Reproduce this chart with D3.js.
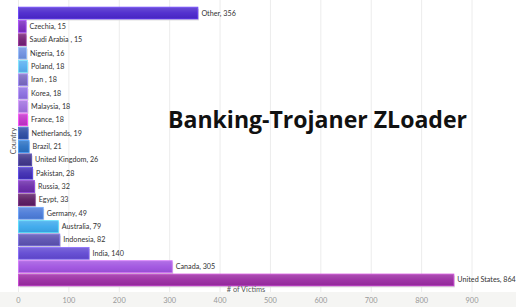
<!DOCTYPE html>
<html><head><meta charset="utf-8">
<script src="https://cdn.jsdelivr.net/npm/d3@7"></script>
<style>body{margin:0;background:#fff}svg{display:block}</style>
</head><body>
<script>
const countries = ["Other","Czechia","Saudi Arabia ","Nigeria","Poland","Iran ","Korea","Malaysia","France","Netherlands","Brazil","United Kingdom","Pakistan","Russia","Egypt","Germany","Australia","Indonesia","India","Canada","United States"];
const victims = [356,15,15,16,18,18,18,18,18,19,21,26,28,32,33,49,79,82,140,305,864];
const colors = ["#4a26cc","#7a2cbe","#721e72","#6e90e0","#58aef0","#7868c0","#8a6ee0","#a070de","#c232c8","#2c4ca2","#2a70c2","#3e3488","#3e2cb2","#6a2aa8","#5a1a60","#4a7ad8","#3aa8ec","#5a50b0","#6048d2","#a052e0","#9a2aa2"];
const xTicks = [0,100,200,300,400,500,600,700,800,900];
const title = "Banking-Trojaner ZLoader";

const W = 516, H = 307;
const svg = d3.select("body").append("svg").attr("width", W).attr("height", H);
const x = d3.scaleLinear().domain([0, 900]).range([18.5, 472]);
const y = d3.scaleBand().domain(countries).range([6.5, 286.5]).paddingInner(0.12).paddingOuter(0.05);

svg.append("rect").attr("x", 0).attr("y", 292).attr("width", W).attr("height", H - 292).attr("fill", "#f5f5f3");

svg.append("g").selectAll("line").data(xTicks).join("line")
  .attr("x1", d => x(d)).attr("x2", d => x(d)).attr("y1", 0).attr("y2", 292)
  .attr("stroke", "#ececec").attr("stroke-width", 1);

const defs = svg.append("defs");
const g = defs.append("linearGradient").attr("id", "shine").attr("x1", 0).attr("y1", 0).attr("x2", 0).attr("y2", 1);
g.append("stop").attr("offset", "0%").attr("stop-color", "#fff").attr("stop-opacity", 0.18);
g.append("stop").attr("offset", "50%").attr("stop-color", "#fff").attr("stop-opacity", 0.05);
g.append("stop").attr("offset", "100%").attr("stop-color", "#000").attr("stop-opacity", 0.06);

const bars = svg.append("g");
bars.selectAll("rect.sh").data(countries).join("rect").attr("class", "sh")
  .attr("x", x(0) + 1).attr("y", d => y(d) + 1.5)
  .attr("width", (d, i) => x(victims[i]) - x(0)).attr("height", y.bandwidth())
  .attr("fill", "#d8d8d8");
bars.selectAll("rect.b").data(countries).join("rect").attr("class", "b")
  .attr("x", x(0)).attr("y", d => y(d))
  .attr("width", (d, i) => x(victims[i]) - x(0)).attr("height", y.bandwidth())
  .attr("fill", (d, i) => colors[i])
  .attr("stroke", (d, i) => d3.color(colors[i]).brighter(0.8)).attr("stroke-width", 0.8);
bars.selectAll("rect.s").data(countries).join("rect").attr("class", "s")
  .attr("x", x(0)).attr("y", d => y(d))
  .attr("width", (d, i) => x(victims[i]) - x(0)).attr("height", y.bandwidth())
  .attr("fill", "url(#shine)");

svg.append("g").selectAll("text").data(countries).join("text")
  .attr("x", (d, i) => x(victims[i]) + 3.5).attr("y", d => y(d) + y.bandwidth() / 2)
  .attr("dy", "0.35em").attr("font-family", "Lato, sans-serif").attr("font-size", 7.2)
  .attr("fill", "#333").text((d, i) => d + ", " + victims[i]);

svg.append("g").selectAll("text").data(xTicks).join("text")
  .attr("x", d => x(d)).attr("y", 300).attr("dy", "0.35em").attr("text-anchor", "middle")
  .attr("font-family", "Lato, sans-serif").attr("font-size", 7.4).attr("fill", "#999").text(d => d);

svg.append("text").attr("x", 246).attr("y", 289.5).attr("dy", "0.35em").attr("text-anchor", "middle")
  .attr("font-family", "Lato, sans-serif").attr("font-size", 7.4).attr("fill", "#555").text("# of  Victims");

svg.append("text").attr("transform", "translate(13,141) rotate(-90)").attr("dy", "0.35em").attr("text-anchor", "middle")
  .attr("font-family", "Lato, sans-serif").attr("font-size", 7.4).attr("fill", "#555").text("Country");

const t = svg.append("text").attr("x", 168).attr("y", 128)
  .attr("font-family", "'Open Sans', sans-serif").attr("font-weight", 700).attr("font-size", 24)
  .attr("fill", "#111").text(title);
if (t.node().getComputedTextLength() > 0) t.attr("textLength", 299).attr("lengthAdjust", "spacingAndGlyphs");
</script>
</body></html>
